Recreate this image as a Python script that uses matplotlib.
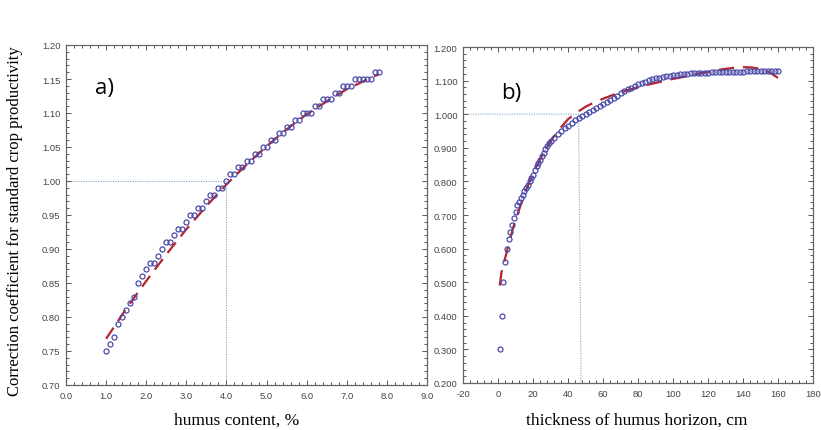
import matplotlib
matplotlib.use("Agg")
import matplotlib.pyplot as plt
from matplotlib.ticker import AutoMinorLocator, FixedLocator, FormatStrFormatter

# ---------------- data: panel a ----------------
humus_x = [1.0, 1.1, 1.2, 1.3, 1.4, 1.5, 1.6, 1.7, 1.8, 1.9,
           2.0, 2.1, 2.2, 2.3, 2.4, 2.5, 2.6, 2.7, 2.8, 2.9,
           3.0, 3.1, 3.2, 3.3, 3.4, 3.5, 3.6, 3.7, 3.8, 3.9,
           4.0, 4.1, 4.2, 4.3, 4.4, 4.5, 4.6, 4.7, 4.8, 4.9,
           5.0, 5.1, 5.2, 5.3, 5.4, 5.5, 5.6, 5.7, 5.8, 5.9,
           6.0, 6.1, 6.2, 6.3, 6.4, 6.5, 6.6, 6.7, 6.8, 6.9,
           7.0, 7.1, 7.2, 7.3, 7.4, 7.5, 7.6, 7.7, 7.8]
humus_y = [0.75, 0.76, 0.77, 0.79, 0.80, 0.81, 0.82, 0.83, 0.85, 0.86,
           0.87, 0.88, 0.88, 0.89, 0.90, 0.91, 0.91, 0.92, 0.93, 0.93,
           0.94, 0.95, 0.95, 0.96, 0.96, 0.97, 0.98, 0.98, 0.99, 0.99,
           1.00, 1.01, 1.01, 1.02, 1.02, 1.03, 1.03, 1.04, 1.04, 1.05,
           1.05, 1.06, 1.06, 1.07, 1.07, 1.08, 1.08, 1.09, 1.09, 1.10,
           1.10, 1.10, 1.11, 1.11, 1.12, 1.12, 1.12, 1.13, 1.13, 1.14,
           1.14, 1.14, 1.15, 1.15, 1.15, 1.15, 1.15, 1.16, 1.16]
fit_a_x = [1.0, 1.5, 2.0, 2.5, 3.0, 3.5, 4.0, 4.5, 5.0, 5.5, 6.0, 6.5, 7.0, 7.5, 7.8]
fit_a_y = [0.768, 0.812, 0.853, 0.892, 0.929, 0.963, 0.995, 1.024, 1.051,
           1.076, 1.098, 1.117, 1.135, 1.149, 1.157]

# ---------------- data: panel b ----------------
thick_x = [1, 2, 3, 4, 5, 6, 7, 8, 9, 10, 11, 12, 13, 14, 15, 16, 17, 18, 19, 20,
           21, 22, 23, 24, 25, 26, 27, 28, 29, 30, 32, 34, 36, 38, 40, 42, 44, 46, 48, 50,
           52, 54, 56, 58, 60, 62, 64, 66, 68, 70, 72, 74, 76, 78, 80, 82, 84, 86, 88, 90,
           92, 94, 96, 98, 100, 102, 104, 106, 108, 110, 112, 114, 116, 118, 120, 122, 124,
           126, 128, 130, 132, 134, 136, 138, 140, 142, 144, 146, 148, 150, 152, 154, 156,
           158, 160]
thick_y = [0.30, 0.40, 0.50, 0.56, 0.60, 0.63, 0.65, 0.67, 0.69, 0.71, 0.73, 0.74, 0.75,
           0.76, 0.77, 0.78, 0.79, 0.80, 0.81, 0.82, 0.835, 0.845, 0.855, 0.865, 0.875,
           0.885, 0.895, 0.905, 0.915, 0.92, 0.93, 0.94, 0.95, 0.96, 0.965, 0.975, 0.982,
           0.988, 0.995, 1.00, 1.006, 1.012, 1.018, 1.024, 1.03, 1.036, 1.042, 1.048, 1.055,
           1.062, 1.068, 1.074, 1.079, 1.084, 1.089, 1.093, 1.097, 1.101, 1.104, 1.107,
           1.109, 1.111, 1.113, 1.115, 1.117, 1.118, 1.119, 1.120, 1.121, 1.122, 1.122,
           1.123, 1.123, 1.124, 1.124, 1.125, 1.125, 1.125, 1.126, 1.126, 1.126, 1.127,
           1.127, 1.127, 1.127, 1.128, 1.128, 1.128, 1.128, 1.129, 1.129, 1.129, 1.130,
           1.130, 1.130]
fit_b_x = [1, 2, 4, 6, 8, 10, 12, 15, 20, 25, 30, 35, 40, 45, 50, 55, 60, 65, 70, 75, 80,
           85, 90, 95, 100, 105, 110, 115, 120, 125, 130, 135, 140, 145, 150, 155, 160]
fit_b_y = [0.49, 0.53, 0.57, 0.61, 0.65, 0.685, 0.715, 0.76, 0.825, 0.875, 0.92, 0.955,
           0.985, 1.005, 1.022, 1.035, 1.046, 1.056, 1.065, 1.073, 1.080, 1.087, 1.093,
           1.099, 1.105, 1.110, 1.116, 1.121, 1.126, 1.131, 1.135, 1.138, 1.140, 1.139,
           1.135, 1.125, 1.108]

# reference lines
ref_a = (4.0, 1.0)
ref_b = (46.0, 1.0)

a_xticks = [0, 1, 2, 3, 4, 5, 6, 7, 8, 9]
a_yticks = [0.70, 0.75, 0.80, 0.85, 0.90, 0.95, 1.00, 1.05, 1.10, 1.15, 1.20]
b_xticks = [-20, 0, 20, 40, 60, 80, 100, 120, 140, 160, 180]
b_yticks = [0.2, 0.3, 0.4, 0.5, 0.6, 0.7, 0.8, 0.9, 1.0, 1.1, 1.2]

W, H = 821, 431
fig = plt.figure(figsize=(W / 100, H / 100), dpi=100)
fig.patch.set_facecolor("white")

axA = fig.add_axes([66 / W, 1 - 386 / H, (427 - 66) / W, (386 - 46) / H])
axB = fig.add_axes([463 / W, 1 - 384 / H, (813 - 463) / W, (384 - 48) / H])

marker_col = "#4a4aa8"
fit_col = "#b8242c"
ref_col = "#7fa7c9"
tick_col = "#555555"

def style(ax, xt, yt, xlim, ylim, xfmt, yfmt):
    ax.set_xlim(*xlim)
    ax.set_ylim(*ylim)
    ax.xaxis.set_major_locator(FixedLocator(xt))
    ax.yaxis.set_major_locator(FixedLocator(yt))
    ax.xaxis.set_minor_locator(AutoMinorLocator(5))
    ax.yaxis.set_minor_locator(AutoMinorLocator(5))
    ax.xaxis.set_major_formatter(FormatStrFormatter(xfmt))
    ax.yaxis.set_major_formatter(FormatStrFormatter(yfmt))
    ax.tick_params(which="both", direction="in", top=True, right=True,
                   color=tick_col, width=0.7)
    ax.tick_params(which="major", length=3.5, labelsize=6.8, labelcolor="#444444",
                   pad=4)
    ax.tick_params(which="minor", length=2)
    for lab in ax.get_xticklabels() + ax.get_yticklabels():
        lab.set_family("Liberation Sans")
    for s in ax.spines.values():
        s.set_color("#666666")
        s.set_linewidth(0.9)

# panel a
axA.plot([0, ref_a[0], ref_a[0]], [ref_a[1], ref_a[1], 0.70], ls=(0, (1, 1.2)),
         color=ref_col, lw=0.8, zorder=1)
axA.plot(fit_a_x, fit_a_y, color=fit_col, lw=1.6, ls=(0, (6, 3.5)), zorder=2)
axA.plot(humus_x, humus_y, ls="none", marker="o", ms=3.6, mfc="none",
         mec=marker_col, mew=0.9, zorder=3)
style(axA, a_xticks, a_yticks, (0, 9), (0.70, 1.20), "%.1f", "%.2f")
axA.text(0.08, 0.875, "a)", transform=axA.transAxes, fontsize=16,
         family="Open Sans", ha="left", va="center")

# panel b
axB.plot([-20, ref_b[0], ref_b[0] + 1.5], [ref_b[1], ref_b[1], 0.2], ls=(0, (1, 1.2)),
         color=ref_col, lw=0.8, zorder=1)
axB.plot(fit_b_x, fit_b_y, color=fit_col, lw=1.6, ls=(0, (7, 4)), zorder=2)
axB.plot(thick_x, thick_y, ls="none", marker="o", ms=3.6, mfc="none",
         mec=marker_col, mew=0.9, zorder=3)
style(axB, b_xticks, b_yticks, (-20, 180), (0.2, 1.2), "%d", "%.3f")
axB.text(0.11, 0.865, "b)", transform=axB.transAxes, fontsize=16,
         family="Open Sans", ha="left", va="center")

fig.text(237 / W, 1 - 421 / H, "humus content, %", ha="center", va="center",
         family="Liberation Serif", fontsize=12.5)
fig.text(637 / W, 1 - 421 / H, "thickness of humus horizon, cm", ha="center",
         va="center", family="Liberation Serif", fontsize=12.5)
fig.text(15 / W, 1 - 221 / H, "Correction coefficient for standard crop productivity",
         rotation=90, ha="center", va="center", family="Liberation Serif", fontsize=12)

fig.savefig("out.png", dpi=100, facecolor="white")
